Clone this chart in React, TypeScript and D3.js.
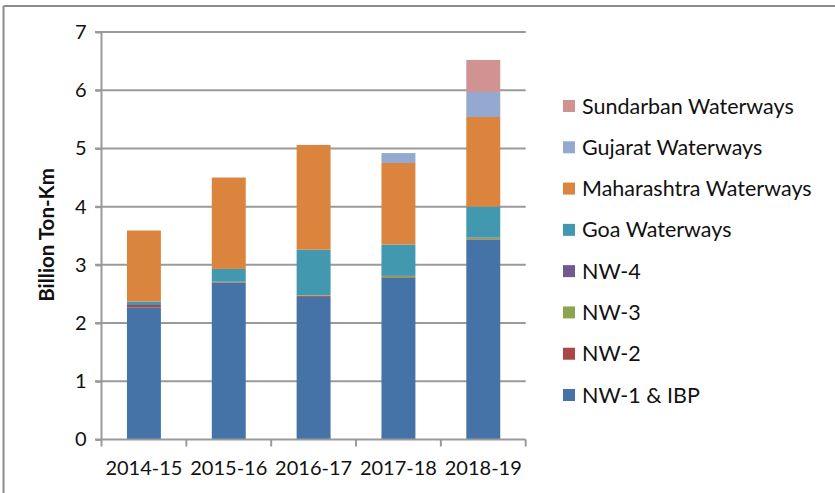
import { useEffect, useRef } from 'react';
import * as d3 from 'd3';

const years = ['2014-15', '2015-16', '2016-17', '2017-18', '2018-19'];

// Billion Ton-Km per series, bottom of stack first
const nw1 = [2.27, 2.69, 2.45, 2.78, 3.43];
const nw2 = [0.04, 0.01, 0.02, 0.01, 0.01];
const nw3 = [0.0, 0.01, 0.01, 0.02, 0.02];
const nw4 = [0.0, 0.0, 0.0, 0.0, 0.01];
const goa = [0.06, 0.22, 0.78, 0.54, 0.53];
const maharashtra = [1.22, 1.57, 1.8, 1.4, 1.54];
const gujarat = [0, 0, 0, 0.17, 0.43];
const sundarban = [0, 0, 0, 0, 0.55];

const seriesNames = [
  'NW-1 & IBP',
  'NW-2',
  'NW-3',
  'NW-4',
  'Goa Waterways',
  'Maharashtra Waterways',
  'Gujarat Waterways',
  'Sundarban Waterways',
];
const seriesValues = [nw1, nw2, nw3, nw4, goa, maharashtra, gujarat, sundarban];
const seriesColors = ['#4572A7', '#AA4643', '#89A54E', '#71588F', '#4198AF', '#DB843D', '#93A9CF', '#D19392'];

const yTicks = [0, 1, 2, 3, 4, 5, 6, 7];

const FONT = 'Lato, "Open Sans", sans-serif';

export default function App() {
  const svgRef = useRef<SVGSVGElement>(null);

  useEffect(() => {
    if (!svgRef.current) return;
    const svg = d3.select(svgRef.current);
    svg.selectAll('*').remove();

    const width = 835;
    const height = 493;

    svg.attr('width', width).attr('height', height);

    // frame (only top + left edge show in the original)
    svg.append('line').attr('x1', 3.5).attr('x2', width).attr('y1', 6).attr('y2', 6)
      .attr('stroke', '#8c8c8c').attr('stroke-width', 2);
    svg.append('line').attr('x1', 3.5).attr('x2', 3.5).attr('y1', 6).attr('y2', height)
      .attr('stroke', '#8c8c8c').attr('stroke-width', 2);

    const x = d3.scaleBand<string>().domain(years).range([101.5, 525.7]).paddingInner(0.6).paddingOuter(0.3);
    const y = d3.scaleLinear().domain([0, 7]).range([439.5, 32]);

    const table = years.map((yr, i) => {
      const row: Record<string, number | string> = { year: yr };
      seriesNames.forEach((n, s) => (row[n] = seriesValues[s][i]));
      return row;
    });
    const stacked = d3.stack<Record<string, number | string>>().keys(seriesNames)(table as any);

    // gridlines
    svg.append('g')
      .selectAll('line')
      .data(yTicks.slice(1))
      .join('line')
      .attr('x1', 95)
      .attr('x2', 525.7)
      .attr('y1', (d) => y(d))
      .attr('y2', (d) => y(d))
      .attr('stroke', '#9a9a9a')
      .attr('stroke-width', 2);

    // bars
    svg.append('g')
      .selectAll('g')
      .data(stacked)
      .join('g')
      .attr('fill', (_, i) => seriesColors[i])
      .selectAll('rect')
      .data((d) => d.filter((p) => p[1] - p[0] > 0))
      .join('rect')
      .attr('x', (d) => x(d.data.year as string)!)
      .attr('width', x.bandwidth())
      .attr('y', (d) => y(d[1]))
      .attr('height', (d) => y(d[0]) - y(d[1]));

    // y axis
    const yAxis = svg.append('g').attr('transform', `translate(101.5,0)`)
      .call(d3.axisLeft(y).tickValues(yTicks).tickSize(6).tickFormat(d3.format('d')));
    yAxis.select('.domain').attr('stroke', '#9a9a9a').attr('stroke-width', 2).attr('d', `M-6,${y(7)}H0V${y(0)}`);
    yAxis.selectAll('.tick line').attr('stroke', '#9a9a9a').attr('stroke-width', 2);
    yAxis.selectAll('.tick text')
      .attr('x', -15)
      .attr('fill', '#111')
      .attr('font-size', 20)
      .attr('font-family', FONT);

    // x axis, ticks sit between categories
    const xg = svg.append('g');
    xg.append('line').attr('x1', 95).attr('x2', 525.7).attr('y1', y(0)).attr('y2', y(0))
      .attr('stroke', '#9a9a9a').attr('stroke-width', 2);
    const edges = [
      ...years.map((yr) => x(yr)! + x.bandwidth() / 2 - x.step() / 2),
      x(years[years.length - 1])! + x.bandwidth() / 2 + x.step() / 2,
    ];
    xg.selectAll('line.tick')
      .data(edges)
      .join('line')
      .attr('class', 'tick')
      .attr('x1', (d) => d)
      .attr('x2', (d) => d)
      .attr('y1', y(0))
      .attr('y2', y(0) + 7)
      .attr('stroke', '#9a9a9a')
      .attr('stroke-width', 2);
    xg.selectAll('text')
      .data(years)
      .join('text')
      .attr('x', (d) => x(d)! + x.bandwidth() / 2)
      .attr('y', 475)
      .attr('text-anchor', 'middle')
      .attr('fill', '#111')
      .attr('font-size', 20)
      .attr('font-family', FONT)
      .text((d) => d);

    // y title
    svg.append('text')
      .attr('transform', `translate(54,235) rotate(-90)`)
      .attr('text-anchor', 'middle')
      .attr('fill', '#111')
      .attr('font-size', 20.5)
      .attr('font-weight', 'bold')
      .attr('font-family', FONT)
      .text('Billion Ton-Km');

    // legend, top entry is last series
    const legendOrder = seriesNames.slice().reverse();
    const ly = d3.scalePoint<string>().domain(legendOrder).range([106, 395]);
    const lg = svg.append('g')
      .selectAll('g')
      .data(legendOrder)
      .join('g')
      .attr('transform', (d) => `translate(563,${ly(d)})`);
    lg.append('rect')
      .attr('x', 0)
      .attr('y', -6)
      .attr('width', 12)
      .attr('height', 12)
      .attr('fill', (d) => seriesColors[seriesNames.indexOf(d)]);
    lg.append('text')
      .attr('x', 19)
      .attr('y', 7.5)
      .attr('fill', '#111')
      .attr('font-size', 21.5)
      .attr('font-family', FONT)
      .text((d) => d);
  }, []);

  return (
    <div style={{ position: 'fixed', left: 0, top: 0, width: 835, height: 493, background: '#fff' }}>
      <svg ref={svgRef} style={{ display: 'block' }} />
    </div>
  );
}
